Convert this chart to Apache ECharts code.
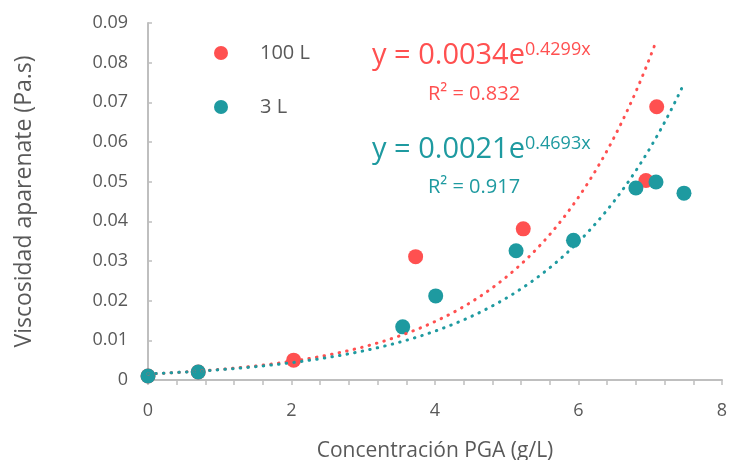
<!DOCTYPE html>
<html>
<head>
<meta charset="utf-8">
<script src="https://cdn.jsdelivr.net/npm/echarts@6/dist/echarts.min.js"></script>
<style>html,body{margin:0;padding:0;background:#fff}#c{width:730px;height:460px}</style>
</head>
<body>
<div id="c"></div>
<script>
// ---- data ----
const seriesNames = ['100 L', '3 L'];
const x100 = [0, 0.70, 2.03, 3.73, 5.23, 6.94, 7.09];
const y100 = [0.0010, 0.0020, 0.0050, 0.0311, 0.0381, 0.0503, 0.0689];
const x3 = [0, 0.70, 3.55, 4.01, 5.13, 5.93, 6.80, 7.08, 7.47];
const y3 = [0.0010, 0.0020, 0.0134, 0.0212, 0.0326, 0.0352, 0.0484, 0.0499, 0.0471];
const xTicks = [0, 2, 4, 6, 8];
const yTicks = [0, 0.01, 0.02, 0.03, 0.04, 0.05, 0.06, 0.07, 0.08, 0.09];
const eq100 = ['y = 0.0034e', '0.4299x', 'R² = 0.832'];
const eq3 = ['y = 0.0021e', '0.4693x', 'R² = 0.917'];

const RED = '#FF5050', TEAL = '#1E9AA0', TXT = '#595959', AX = '#BFBFBF';
const FONT = 'Open Sans';

function pairs(xs, ys) { return xs.map((x, i) => [x, ys[i]]); }
// Excel-style exponential trendline: least squares on ln(y)
function expFit(xs, ys) {
  const n = xs.length, ly = ys.map(Math.log);
  const mx = xs.reduce((a, b) => a + b, 0) / n, my = ly.reduce((a, b) => a + b, 0) / n;
  let sxy = 0, sxx = 0;
  for (let i = 0; i < n; i++) { sxy += (xs[i] - mx) * (ly[i] - my); sxx += (xs[i] - mx) ** 2; }
  const b = sxy / sxx, a = Math.exp(my - b * mx);
  return { a, b };
}
function trend(xs, ys) {
  const f = expFit(xs, ys), x0 = Math.min(...xs), x1 = Math.max(...xs), out = [];
  const N = 200;
  for (let i = 0; i <= N; i++) { const x = x0 + (x1 - x0) * i / N; out.push([x, f.a * Math.exp(f.b * x)]); }
  return out;
}

const chart = echarts.init(document.getElementById('c'), null, { renderer: 'canvas' });
const dotted = (c) => ({ color: c, width: 3, type: [0.5, 7.2], cap: 'round' });

function eqGraphic(eq, color, left, top1, top2) {
  return [
    { type: 'text', left: left, top: top1, z: 100,
      style: { text: '{m|' + eq[0] + '}{s|' + eq[1] + '}',
        rich: { m: { fontFamily: FONT, fontSize: 29, lineHeight: 33, fill: color, verticalAlign: 'top' },
                s: { fontFamily: FONT, fontSize: 18, lineHeight: 33, fill: color, verticalAlign: 'top' } },
        fill: color } },
    { type: 'text', left: left + 56, top: top2, z: 100,
      style: { text: eq[2], fontFamily: FONT, fontSize: 20, fill: color } }
  ];
}

chart.setOption({
  animation: false,
  textStyle: { fontFamily: FONT },
  grid: { left: 148, right: 8, top: 23, bottom: 80, containLabel: false, outerBoundsMode: 'none' },
  legend: {
    data: seriesNames, orient: 'vertical', left: 209, top: 37,
    icon: 'circle', itemWidth: 14, itemHeight: 14, itemGap: 32,
    textStyle: { fontFamily: FONT, fontSize: 20, color: TXT, lineHeight: 22, padding: [0, 0, 0, 27] }
  },
  xAxis: {
    type: 'value', min: xTicks[0], max: xTicks[xTicks.length - 1], interval: 2,
    name: 'Concentración PGA (g/L)', nameLocation: 'middle', nameGap: 61,
    nameTextStyle: { fontFamily: FONT, fontSize: 21, color: TXT },
    axisLine: { show: true, lineStyle: { color: AX, width: 2 } },
    axisTick: { show: true, length: 5, lineStyle: { color: AX, width: 1.5 } },
    minorTick: { show: true, splitNumber: 5, length: 5, lineStyle: { color: AX, width: 1.5 } },
    axisLabel: { fontFamily: FONT, fontSize: 18, color: TXT, margin: 22 },
    splitLine: { show: false }
  },
  yAxis: {
    type: 'value', min: yTicks[0], max: yTicks[yTicks.length - 1], interval: 0.01,
    name: 'Viscosidad aparenate (Pa.s)', nameLocation: 'middle', nameGap: 112,
    nameTextStyle: { fontFamily: FONT, fontSize: 23, color: TXT },
    axisLine: { show: true, lineStyle: { color: AX, width: 2 } },
    axisTick: { show: true, inside: true, length: 4, lineStyle: { color: AX, width: 1.5 } },
    axisLabel: { fontFamily: FONT, fontSize: 18, color: TXT, margin: 20,
      formatter: v => (Math.abs(v) < 1e-9 ? '0' : v.toFixed(2)) },
    splitLine: { show: false }
  },
  series: [
    { name: seriesNames[0], type: 'scatter', data: pairs(x100, y100), symbolSize: 15,
      itemStyle: { color: RED, opacity: 1 }, z: 3 },
    { name: seriesNames[1], type: 'scatter', data: pairs(x3, y3), symbolSize: 15,
      itemStyle: { color: TEAL, opacity: 1 }, z: 4 },
    { name: 'trend100', type: 'line', data: trend(x100, y100), showSymbol: false, symbol: 'none',
      lineStyle: dotted(RED), z: 5, silent: true },
    { name: 'trend3', type: 'line', data: trend(x3, y3), showSymbol: false, symbol: 'none',
      lineStyle: dotted(TEAL), z: 5, silent: true }
  ],
  graphic: [].concat(eqGraphic(eq100, RED, 372, 41, 84), eqGraphic(eq3, TEAL, 372, 135, 177))
});
</script>
</body>
</html>
